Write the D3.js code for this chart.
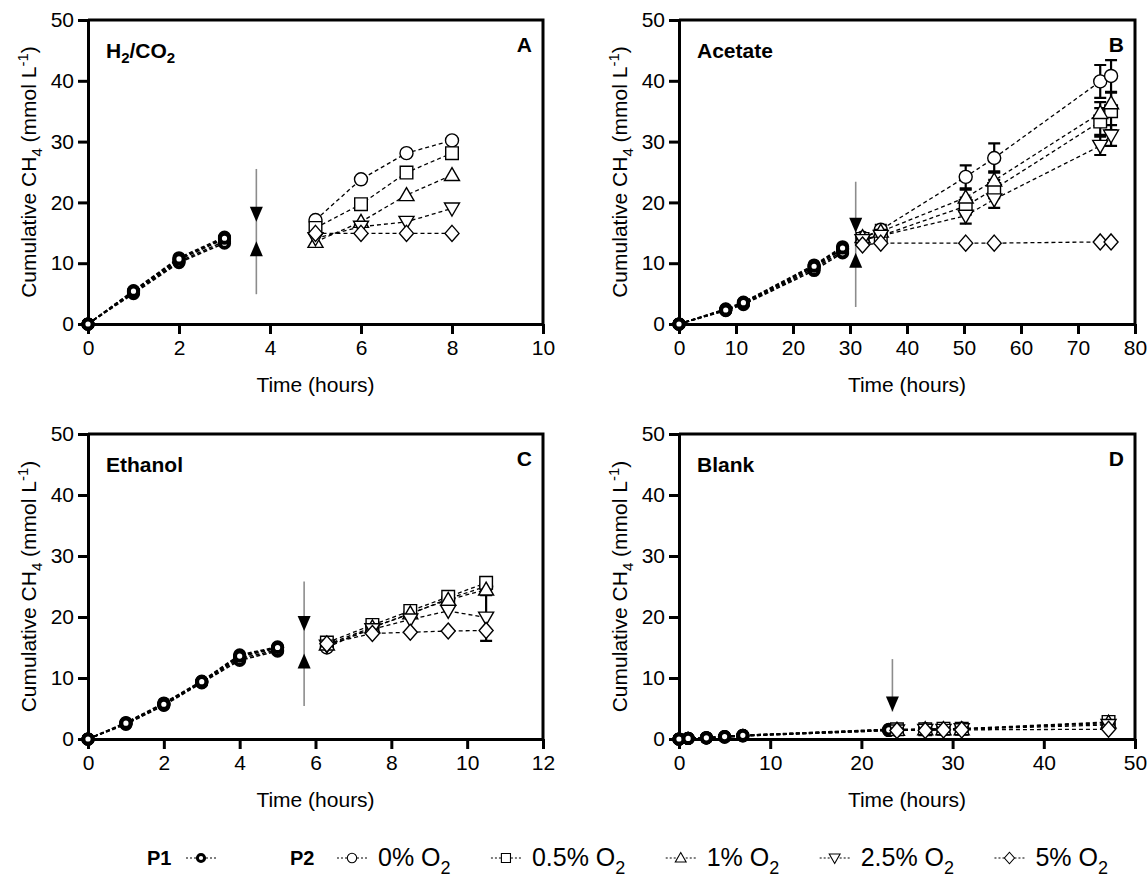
<!DOCTYPE html>
<html>
<head>
<meta charset="utf-8">
<script src="https://cdn.jsdelivr.net/npm/d3@7"></script>
<style>
  body { margin: 0; background: #fff; }
  svg { display: block; }
  text { font-family: "Liberation Sans Narrow", "Arial Narrow", "Liberation Sans", Arial, sans-serif; fill: #000; }
  .bold { font-family: "Liberation Sans", Arial, sans-serif; font-weight: bold; }
</style>
</head>
<body>
<svg id="chart"></svg>
<script>
(function (d3) {
  'use strict';

  // ---- data ----
  var conditions = ["0% O2", "0.5% O2", "1% O2", "2.5% O2", "5% O2"];
  var shapes = ["circle", "square", "triangle", "triangleDown", "diamond"];
  var panelKeys = ["A", "B", "C", "D"];
  var substrates = ["H2/CO2", "Acetate", "Ethanol", "Blank"];
  var xMax = [10, 80, 12, 50];
  var xStep = [2, 10, 2, 10];
  var yTicks = [0, 10, 20, 30, 40, 50];

  // panel A  H2/CO2
  var aP1Time = [0, 1, 2, 3];
  var aP1 = [
    [0, 5.5, 10.9, 14.3],
    [0, 5.3, 10.6, 14.0],
    [0, 5.2, 10.3, 13.6],
    [0, 5.0, 10.1, 13.3],
    [0, 5.4, 10.7, 14.1]
  ];
  var aP2Time = [5, 6, 7, 8];
  var aP2 = [
    [17.1, 23.8, 28.1, 30.2],
    [15.8, 19.7, 24.9, 28.1],
    [13.5, 16.8, 21.2, 24.5],
    [14.1, 16.0, 16.8, 19.0],
    [14.9, 14.9, 14.9, 14.9]
  ];

  // panel B  Acetate
  var bP1Time = [0, 8.2, 11.3, 23.7, 28.7];
  var bP1 = [
    [0, 2.5, 3.6, 9.7, 12.7],
    [0, 2.4, 3.4, 9.4, 12.3],
    [0, 2.3, 3.3, 9.1, 12.0],
    [0, 2.2, 3.2, 8.8, 11.7],
    [0, 2.3, 3.5, 9.5, 12.5]
  ];
  var bP2Time = [32.2, 35.4, 50.3, 55.3, 73.9, 75.8];
  var bP2 = [
    [14.2, 15.5, 24.2, 27.3, 39.9, 40.8],
    [14.0, 14.5, 19.4, 22.2, 33.3, 35.0],
    [14.3, 15.2, 20.8, 23.6, 34.7, 36.3],
    [13.8, 14.5, 17.8, 20.5, 29.3, 31.0],
    [13.0, 13.3, 13.3, 13.3, 13.5, 13.5]
  ];
  var bP2Err = [
    [0, 0.8, 1.9, 2.4, 2.7, 2.6],
    [0, 0.5, 1.4, 1.5, 2.2, 3.1],
    [0, 0.6, 1.3, 1.5, 1.8, 1.8],
    [0, 0.5, 1.3, 1.4, 1.5, 1.7],
    [0, 0, 0, 0, 0, 0]
  ];

  // panel C  Ethanol
  var cP1Time = [0, 1, 2, 3, 4, 5];
  var cP1 = [
    [0, 2.7, 5.9, 9.5, 13.8, 15.1],
    [0, 2.6, 5.8, 9.4, 13.5, 14.9],
    [0, 2.5, 5.6, 9.3, 13.2, 14.6],
    [0, 2.4, 5.5, 9.2, 12.9, 14.4],
    [0, 2.6, 5.7, 9.4, 13.6, 15.0]
  ];
  var cP2Time = [6.3, 7.5, 8.5, 9.5, 10.5];
  var cP2 = [
    [15.0, 18.3, 20.5, 23.0, 25.0],
    [15.8, 18.7, 21.0, 23.3, 25.6],
    [15.5, 18.3, 20.6, 22.8, 24.5],
    [15.3, 18.0, 19.6, 21.0, 19.9],
    [15.6, 17.3, 17.5, 17.7, 17.8]
  ];
  var cP2Err = [
    [0, 0, 0, 0, 0.5],
    [0, 0, 0, 0, 0.4],
    [0, 0, 0, 0, 0.9],
    [0, 0, 0, 0, 3.8],
    [0, 0, 0, 0, 0]
  ];

  // panel D  Blank
  var dP1Time = [0, 1, 3, 5, 7, 23];
  var dP1 = [
    [0, 0.1, 0.2, 0.4, 0.6, 1.5],
    [0, 0.1, 0.2, 0.3, 0.5, 1.4],
    [0, 0.1, 0.2, 0.4, 0.6, 1.6],
    [0, 0.1, 0.2, 0.3, 0.5, 1.4],
    [0, 0.1, 0.2, 0.4, 0.6, 1.5]
  ];
  var dP2Time = [23.9, 27, 29, 31, 47.1];
  var dP2 = [
    [1.5, 1.6, 1.6, 1.7, 2.5],
    [1.6, 1.6, 1.7, 1.7, 2.8],
    [1.5, 1.6, 1.6, 1.6, 2.7],
    [1.4, 1.5, 1.5, 1.6, 2.3],
    [1.4, 1.4, 1.5, 1.5, 1.6]
  ];

  // oxygen injection arrows (time, top, bottom, tip of down head, tip of up head)
  var arrowX = [3.7, 31.0, 5.7, 23.4];
  var arrowTop = [25.5, 23.4, 25.8, 13.1];
  var arrowBottom = [4.9, 2.8, 5.4, null];
  var arrowDownTip = [16.8, 15.0, 17.7, 4.5];
  var arrowUpTip = [13.6, 11.7, 14.0, null];

  var P1Time = [aP1Time, bP1Time, cP1Time, dP1Time];
  var P1 = [aP1, bP1, cP1, dP1];
  var P2Time = [aP2Time, bP2Time, cP2Time, dP2Time];
  var P2 = [aP2, bP2, cP2, dP2];
  var P2Err = [null, bP2Err, cP2Err, null];

  // ---- layout ----
  var width = 1148, height = 889;
  var boxes = [
    { left: 88, right: 543, top: 20, bottom: 324 },
    { left: 679, right: 1135, top: 20, bottom: 324 },
    { left: 88, right: 543, top: 434, bottom: 739 },
    { left: 679, right: 1135, top: 434, bottom: 739 }
  ];

  var svg = d3.select("#chart").attr("width", width).attr("height", height);

  function symbolPath(shape, s) {
    s = s || 1;
    switch (shape) {
      case "circle":
        var r = 6.5 * s;
        return "M" + (-r) + ",0a" + r + "," + r + " 0 1,0 " + (2 * r) + ",0a" + r + "," + r + " 0 1,0 " + (-2 * r) + ",0Z";
      case "square":
        var h = 6.3 * s;
        return "M" + (-h) + "," + (-h) + "H" + h + "V" + h + "H" + (-h) + "Z";
      case "triangle":
        return "M0," + (-7.5 * s) + "L" + (7.5 * s) + "," + (5.5 * s) + "L" + (-7.5 * s) + "," + (5.5 * s) + "Z";
      case "triangleDown":
        return "M0," + (7.5 * s) + "L" + (7.5 * s) + "," + (-5.5 * s) + "L" + (-7.5 * s) + "," + (-5.5 * s) + "Z";
      default:
        return "M0," + (-8 * s) + "L" + (7 * s) + ",0L0," + (8 * s) + "L" + (-7 * s) + ",0Z";
    }
  }

  function addO2(sel, txt, sz) {
    sel.append("tspan").text(txt);
    sel.append("tspan").attr("dy", sz * 0.3).attr("font-size", sz * 0.72).text("2");
  }

  boxes.forEach(function (b, i) {
    var x = d3.scaleLinear().domain([0, xMax[i]]).range([b.left, b.right]);
    var y = d3.scaleLinear().domain([0, 50]).range([b.bottom, b.top]);
    var g = svg.append("g");

    // frame (top + right)
    g.append("path")
      .attr("d", "M" + b.left + "," + b.top + "H" + b.right + "V" + b.bottom)
      .attr("fill", "none").attr("stroke", "#000").attr("stroke-width", 3);

    var xAxis = g.append("g")
      .attr("transform", "translate(0," + b.bottom + ")")
      .call(d3.axisBottom(x).tickValues(d3.range(0, xMax[i] + 0.001, xStep[i])).tickSize(10).tickSizeOuter(0).tickPadding(6));
    var yAxis = g.append("g")
      .attr("transform", "translate(" + b.left + ",0)")
      .call(d3.axisLeft(y).tickValues(yTicks).tickSize(10).tickSizeOuter(0).tickPadding(4));
    [xAxis, yAxis].forEach(function (ax) {
      ax.select(".domain").attr("stroke-width", 3);
      ax.selectAll(".tick line").attr("stroke-width", 3);
      ax.selectAll(".tick text").attr("font-size", 21)
        .style("font-family", '"Liberation Sans Narrow", "Arial Narrow", "Liberation Sans", Arial, sans-serif');
    });

    // axis titles
    g.append("text")
      .attr("x", (b.left + b.right) / 2).attr("y", b.bottom + 68)
      .attr("text-anchor", "middle").attr("font-size", 21)
      .text("Time (hours)");
    var yt = g.append("text")
      .attr("transform", "translate(" + (b.left - 52) + "," + ((b.top + b.bottom) / 2) + ") rotate(-90)")
      .attr("text-anchor", "middle").attr("font-size", 21);
    yt.append("tspan").text("Cumulative CH");
    yt.append("tspan").attr("dy", 6).attr("font-size", 15).text("4");
    yt.append("tspan").attr("dy", -6).text(" (mmol L");
    yt.append("tspan").attr("dy", -8).attr("font-size", 15).text("-1");
    yt.append("tspan").attr("dy", 8).text(")");

    // panel titles
    var st = g.append("text").attr("class", "bold")
      .attr("x", b.left + 18).attr("y", b.top + 38).attr("font-size", 21);
    if (substrates[i] === "H2/CO2") {
      st.append("tspan").text("H");
      st.append("tspan").attr("dy", 5).attr("font-size", 15).text("2");
      st.append("tspan").attr("dy", -5).text("/CO");
      st.append("tspan").attr("dy", 5).attr("font-size", 15).text("2");
    } else {
      st.text(substrates[i]);
    }
    g.append("text").attr("class", "bold")
      .attr("x", b.right - 11).attr("y", b.top + 32).attr("text-anchor", "end")
      .attr("font-size", 21).text(panelKeys[i]);

    // arrow
    var ax0 = x(arrowX[i]);
    var bot = arrowBottom[i] !== null ? arrowBottom[i] : arrowDownTip[i];
    g.append("line")
      .attr("x1", ax0).attr("x2", ax0).attr("y1", y(arrowTop[i])).attr("y2", y(bot))
      .attr("stroke", "#8c8c8c").attr("stroke-width", 1.6);
    var tipD = y(arrowDownTip[i]);
    g.append("path")
      .attr("d", "M" + ax0 + "," + tipD + "L" + (ax0 - 6.5) + "," + (tipD - 15) + "L" + (ax0 + 6.5) + "," + (tipD - 15) + "Z")
      .attr("fill", "#000");
    if (arrowUpTip[i] !== null) {
      var tipU = y(arrowUpTip[i]);
      g.append("path")
        .attr("d", "M" + ax0 + "," + tipU + "L" + (ax0 - 6.5) + "," + (tipU + 15) + "L" + (ax0 + 6.5) + "," + (tipU + 15) + "Z")
        .attr("fill", "#000");
    }

    var line = d3.line().x(function (d) { return x(d[0]); }).y(function (d) { return y(d[1]); });

    // P2 lines
    P2[i].forEach(function (vals) {
      g.append("path")
        .datum(vals.map(function (v, k) { return [P2Time[i][k], v]; }))
        .attr("d", line).attr("fill", "none").attr("stroke", "#000")
        .attr("stroke-width", 1.3).attr("stroke-dasharray", "4,3");
    });
    // P1 lines
    P1[i].forEach(function (vals) {
      g.append("path")
        .datum(vals.map(function (v, k) { return [P1Time[i][k], v]; }))
        .attr("d", line).attr("fill", "none").attr("stroke", "#000")
        .attr("stroke-width", 1.6).attr("stroke-dasharray", "4,2.5");
    });

    // error bars
    if (P2Err[i]) {
      P2Err[i].forEach(function (errs, s) {
        errs.forEach(function (e, k) {
          if (!e) return;
          var cx = x(P2Time[i][k]), v = P2[i][s][k];
          var y1 = y(v + e), y2 = y(v - e);
          g.append("path")
            .attr("d", "M" + cx + "," + y1 + "V" + y2 + "M" + (cx - 6) + "," + y1 + "H" + (cx + 6) + "M" + (cx - 6) + "," + y2 + "H" + (cx + 6))
            .attr("fill", "none").attr("stroke", "#000").attr("stroke-width", 2.2);
        });
      });
    }

    // P1 markers
    P1[i].forEach(function (vals) {
      g.selectAll(null).data(vals).enter().append("circle")
        .attr("cx", function (v, k) { return x(P1Time[i][k]); })
        .attr("cy", function (v) { return y(v); })
        .attr("r", 4.6).attr("fill", "#fff").attr("stroke", "#000").attr("stroke-width", 4);
    });

    // P2 markers
    P2[i].forEach(function (vals, s) {
      g.selectAll(null).data(vals).enter().append("path")
        .attr("transform", function (v, k) { return "translate(" + x(P2Time[i][k]) + "," + y(v) + ")"; })
        .attr("d", symbolPath(shapes[s]))
        .attr("fill", "#fff").attr("stroke", "#000").attr("stroke-width", 1.4);
    });
  });

  // ---- legend ----
  var ly = 858, legendFont = 25, legendEnd = 1108;
  var lg = svg.append("g");
  function legendMarker(cx, draw) {
    lg.append("line").attr("x1", cx - 15).attr("x2", cx + 15).attr("y1", ly).attr("y2", ly)
      .attr("stroke", "#000").attr("stroke-width", 1.2).attr("stroke-dasharray", "2,2");
    draw(cx);
  }
  lg.append("text").attr("class", "bold").attr("x", 147).attr("y", ly + 7).attr("font-size", 20).text("P1");
  legendMarker(201, function (cx) {
    lg.append("circle").attr("cx", cx).attr("cy", ly).attr("r", 3.6)
      .attr("fill", "#fff").attr("stroke", "#000").attr("stroke-width", 3);
  });
  lg.append("text").attr("class", "bold").attr("x", 290).attr("y", ly + 7).attr("font-size", 20).text("P2");

  // build labels first so the row can be spread to the reference width
  var items = conditions.map(function (c, s) {
    var t = lg.append("text").attr("y", ly + 8).attr("font-size", legendFont);
    addO2(t, c.replace(" O2", " O"), legendFont);
    return { text: t, w: t.node().getComputedTextLength(), shape: shapes[s] };
  });
  var startX = 352, toText = 26;
  var used = d3.sum(items, function (d) { return d.w; }) + toText * items.length;
  var gap = (legendEnd - startX - used) / (items.length - 1);
  var cx = startX;
  items.forEach(function (it) {
    legendMarker(cx, function (px) {
      lg.append("path").attr("transform", "translate(" + px + "," + ly + ")")
        .attr("d", symbolPath(it.shape, 0.72))
        .attr("fill", "#fff").attr("stroke", "#000").attr("stroke-width", 1.1);
    });
    it.text.attr("x", cx + toText);
    cx = cx + toText + it.w + gap;
  });
}(d3));
</script>
</body>
</html>
